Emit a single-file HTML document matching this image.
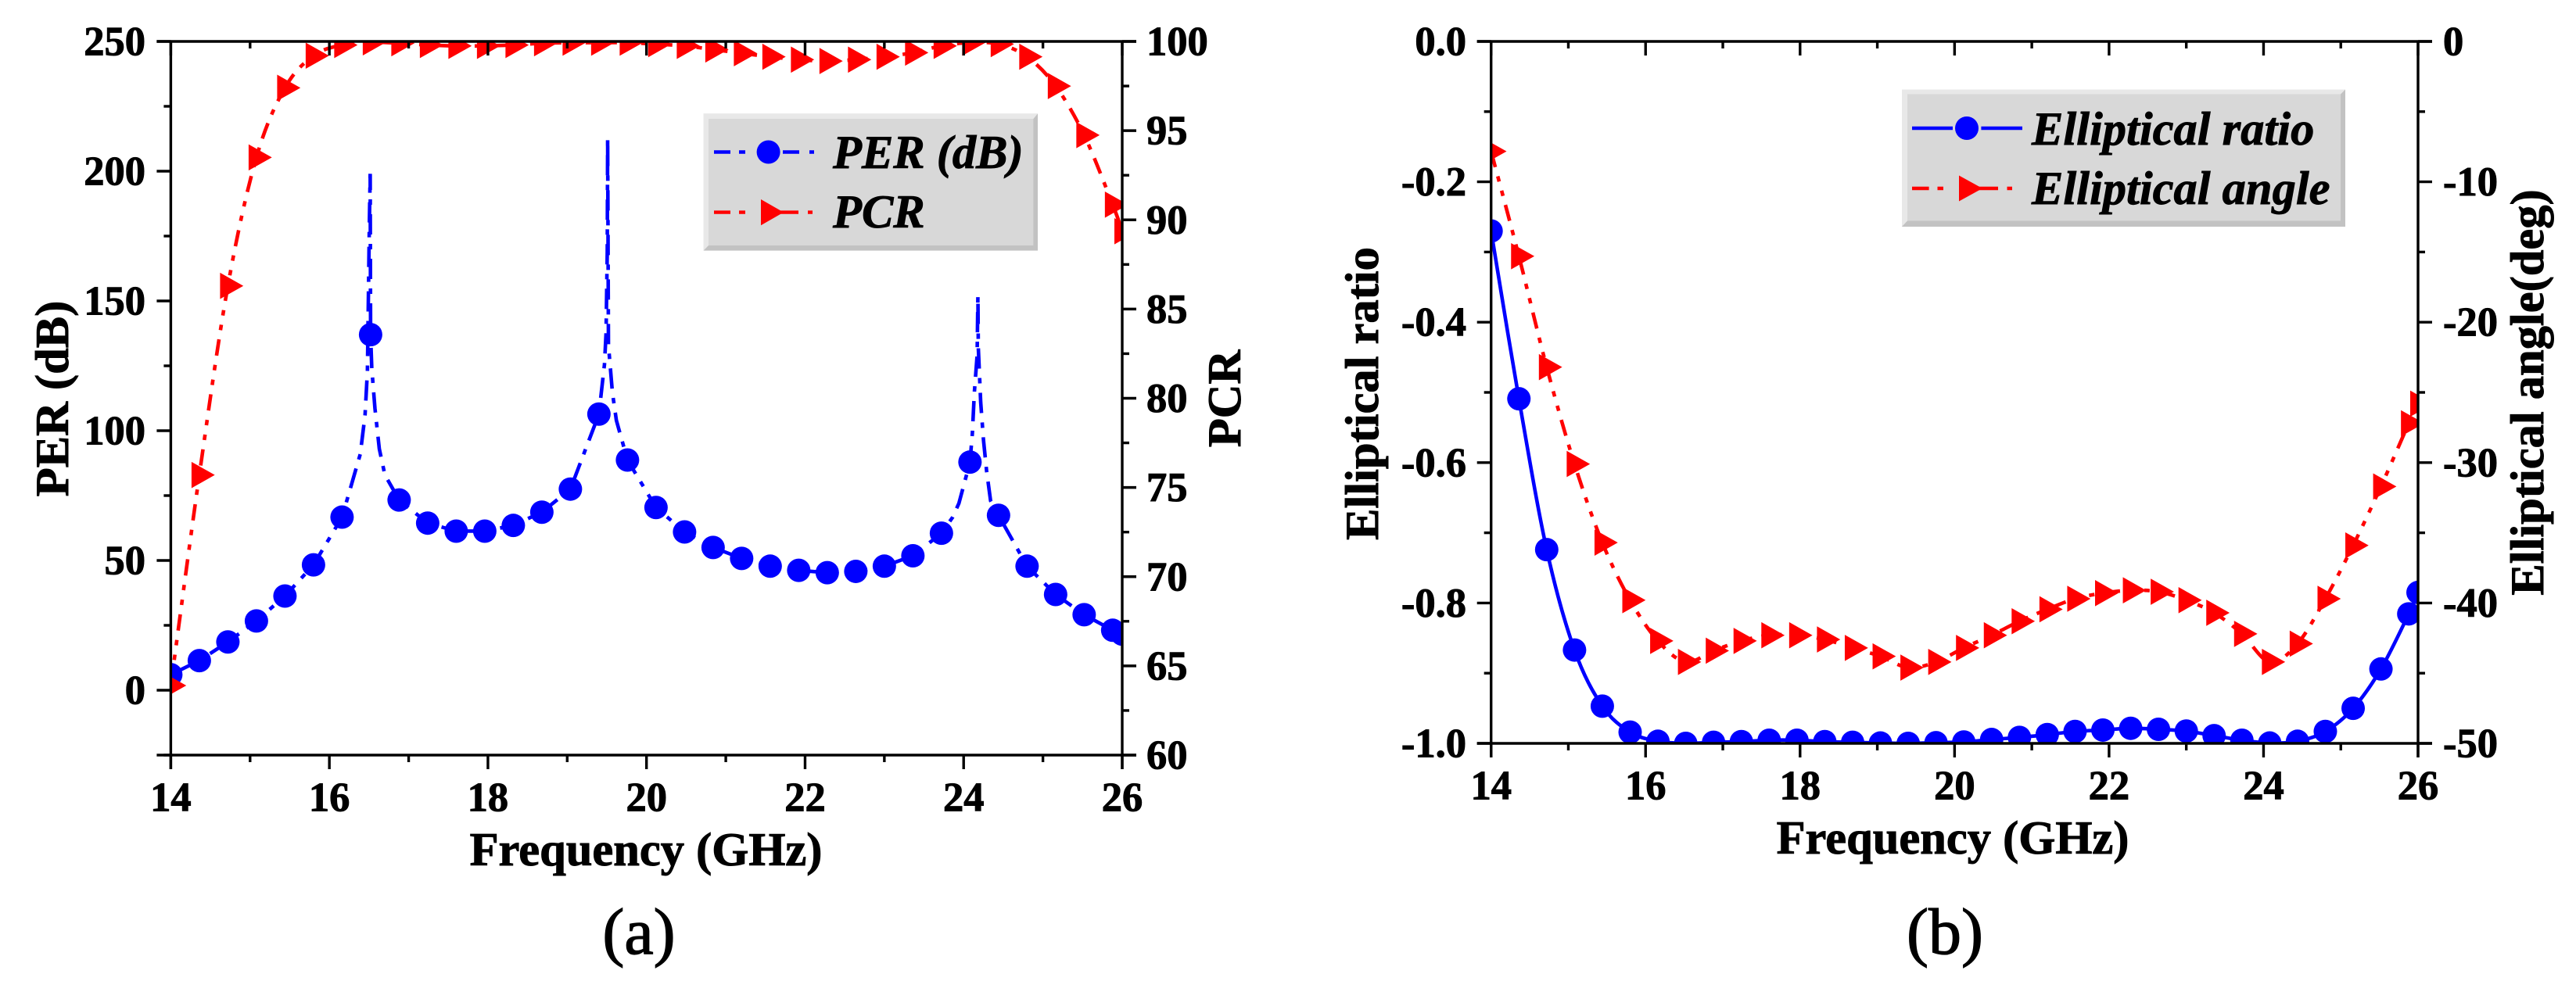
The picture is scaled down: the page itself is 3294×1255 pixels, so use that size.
<!DOCTYPE html>
<html lang="en">
<head>
<meta charset="utf-8">
<title>PER, PCR and elliptical response versus frequency</title>
<style>
  html, body { margin: 0; padding: 0; background: #ffffff; }
  svg { display: block; }
  text { font-family: "Liberation Serif", serif; fill: #000000; stroke: #000000; }
  .tick { font-size: 52.5px; font-weight: bold; stroke-width: 1px; }
  .title { font-size: 60.5px; font-weight: bold; stroke-width: 1px; }
  .legend-text { font-size: 60.5px; font-weight: bold; font-style: italic; stroke-width: 0.9px; }
  .caption { font-size: 84px; stroke-width: 1.3px; }
</style>
</head>
<body>
<svg id="figure" xmlns="http://www.w3.org/2000/svg" width="3294" height="1255" viewBox="0 0 3294 1255">
  <rect width="3294" height="1255" fill="#ffffff"/>
  <defs>
    <clipPath id="clip-a"><rect x="218.4" y="53" width="1216.6" height="913"/></clipPath>
    <clipPath id="clip-b"><rect x="1906.7" y="53" width="1185.3" height="898"/></clipPath>
  </defs>

  <g id="panel-a">
    <g id="a-marks" clip-path="url(#clip-a)"></g>
    <g id="a-axes"></g>
    <text class="title" x="826" y="1107" text-anchor="middle">Frequency (GHz)</text>
    <text class="title" transform="translate(87 510) rotate(-90)" text-anchor="middle">PER (dB)</text>
    <text class="title" transform="translate(1586 510) rotate(-90)" text-anchor="middle">PCR</text>
    <text class="caption" x="817" y="1220" text-anchor="middle">(a)</text>

    <g>
      <rect x="899.5" y="145.4" width="427.5" height="175.2" fill="#c2c2c2"/>
      <polygon points="899.5,145.4 1327,145.4 1321.4,152 906,152 906,314 899.5,320.6" fill="#e8e8e8"/>
      <rect x="906" y="152" width="415.4" height="162" fill="#d8d8d8"/>
      <g>
        <g stroke="#0000ff" stroke-width="4.4" fill="none">
          <path d="M913 194.5H934M945 194.5H953M1001 194.5H1022M1035 194.5H1041"/>
        </g>
        <circle cx="982.6" cy="194.5" r="15" fill="#0000ff"/>
        <text class="legend-text" x="1065" y="215">PER (dB)</text>
      </g>
      <g>
        <g stroke="#ff0000" stroke-width="4.4" fill="none">
          <path d="M913 271.6H934M945 271.6H953M990 271.6H1021M1033 271.6H1039"/>
        </g>
        <polygon points="973,255 973,288.2 1002,271.6" fill="#ff0000"/>
        <text class="legend-text" x="1065" y="291">PCR</text>
      </g>
    </g>
  </g>

  <g id="panel-b">
    <g id="b-marks" clip-path="url(#clip-b)"></g>
    <g id="b-axes"></g>
    <text class="title" x="2497" y="1092" text-anchor="middle">Frequency (GHz)</text>
    <text class="title" transform="translate(1762 503.5) rotate(-90)" text-anchor="middle">Elliptical ratio</text>
    <text class="title" transform="translate(3252 502) rotate(-90)" text-anchor="middle">Elliptical angle(deg)</text>
    <text class="caption" x="2487" y="1220" text-anchor="middle">(b)</text>

    <g>
      <rect x="2432" y="114.5" width="567" height="175.5" fill="#c2c2c2"/>
      <polygon points="2432,114.5 2999,114.5 2993,120.5 2439,120.5 2439,282.5 2432,290" fill="#e8e8e8"/>
      <rect x="2439" y="120.5" width="554" height="162" fill="#d8d8d8"/>
      <g>
        <path d="M2445 164H2497M2533.4 164H2586" stroke="#0000ff" stroke-width="4.4" fill="none"/>
        <circle cx="2515" cy="164" r="15" fill="#0000ff"/>
        <text class="legend-text" x="2598" y="185">Elliptical ratio</text>
      </g>
      <g>
        <path d="M2445 241H2466.6M2477.5 241H2485M2525 241H2555M2566.5 241H2573" stroke="#ff0000" stroke-width="4.4" fill="none"/>
        <polygon points="2505,224.5 2505,257.5 2535,241" fill="#ff0000"/>
        <text class="legend-text" x="2598" y="261">Elliptical angle</text>
      </g>
    </g>
  </g>
</svg>

<script>
// Shared sweep positions (GHz)
const frequency = [14, 14.36, 14.72, 15.08, 15.44, 15.8, 16.16, 16.52, 16.88, 17.24, 17.6, 17.96, 18.32, 18.68, 19.04, 19.4, 19.76, 20.12, 20.48, 20.84, 21.2, 21.56, 21.92, 22.28, 22.64, 23, 23.36, 23.72, 24.08, 24.44, 24.8, 25.16, 25.52, 25.88, 26];

// Panel (a)
const perValues = [6, 11.4, 18.6, 26.7, 36.3, 48.3, 66.7, 137, 73.3, 64.4, 61.3, 61.3, 63.5, 68.6, 77.5, 106.4, 88.7, 70.4, 61, 55, 50.8, 47.8, 46.2, 45.3, 45.8, 47.8, 51.8, 60.5, 87.9, 67.4, 47.8, 36.9, 29.1, 23.1, 21.6];
const perResonanceFreq = [16.39, 16.45, 16.48, 16.505, 16.515, 16.535, 16.575, 16.63, 16.7, 19.43, 19.47, 19.49, 19.505, 19.51, 19.52, 19.57, 19.62, 23.86, 23.94, 24.11, 24.135, 24.17, 24.18, 24.185, 24.215, 24.25, 24.29, 24.34];
const perResonanceValues = [91, 106, 123, 181, 199, 124, 108.6, 93, 83, 114.7, 125.6, 137.7, 169, 212.7, 133, 114.7, 104, 66.6, 72, 99, 114.7, 129, 152, 132, 111, 96.5, 84.4, 73];
const pcrValues = [63.9, 75.7, 86.3, 93.5, 97.4, 99.2, 99.8, 99.95, 99.9, 99.8, 99.75, 99.75, 99.8, 99.9, 99.93, 99.93, 99.93, 99.85, 99.75, 99.55, 99.34, 99.14, 98.98, 98.9, 98.98, 99.14, 99.37, 99.75, 99.93, 99.85, 99.14, 97.5, 94.75, 90.85, 89.36];

// Panel (b)
const ratioValues = [-0.27, -0.509, -0.724, -0.867, -0.947, -0.984, -0.997, -1, -0.9985, -0.9975, -0.9955, -0.9955, -0.9975, -0.9985, -0.9995, -1, -0.999, -0.998, -0.9945, -0.9915, -0.9875, -0.983, -0.981, -0.9785, -0.98, -0.9825, -0.989, -0.9955, -0.9995, -0.997, -0.983, -0.95, -0.894, -0.8155, -0.785];
const angleValues = [-7.83, -15.3, -23.2, -30.1, -35.7, -39.8, -42.7, -44.2, -43.4, -42.7, -42.3, -42.3, -42.6, -43.2, -43.8, -44.6, -44.2, -43.2, -42.3, -41.3, -40.45, -39.7, -39.3, -39.1, -39.2, -39.8, -40.7, -42.2, -44.2, -42.9, -39.7, -35.9, -31.7, -27.2, -25.8];

// Tick labels
const freqTicks = [14, 16, 18, 20, 22, 24, 26];
const perTicks = [0, 50, 100, 150, 200, 250];
const pcrTicks = [60, 65, 70, 75, 80, 85, 90, 95, 100];
const ratioTicks = ['0.0', '-0.2', '-0.4', '-0.6', '-0.8', '-1.0'];
const angleTicks = [0, -10, -20, -30, -40, -50];

const SVGNS = 'http://www.w3.org/2000/svg';
const BLUE_DASH = '26 12 7 12';
const RED_DASH = '21 12 7 12 7 12';

function linear(d0, d1, r0, r1) {
  return function (v) { return r0 + (v - d0) * (r1 - r0) / (d1 - d0); };
}
function make(parent, tag) {
  const el = document.createElementNS(SVGNS, tag);
  parent.appendChild(el);
  return el;
}
function setAll(el, attrs) {
  Object.keys(attrs).forEach(function (k) { el.setAttribute(k, attrs[k]); });
}
function straightPath(pts) {
  return pts.map(function (p, i) { return (i ? 'L' : 'M') + p[0].toFixed(2) + ' ' + p[1].toFixed(2); }).join('');
}
function smoothPath(pts) {
  let d = 'M' + pts[0][0].toFixed(2) + ' ' + pts[0][1].toFixed(2);
  for (let i = 0; i < pts.length - 1; i++) {
    const p0 = pts[Math.max(i - 1, 0)], p1 = pts[i], p2 = pts[i + 1], p3 = pts[Math.min(i + 2, pts.length - 1)];
    d += 'C' + (p1[0] + (p2[0] - p0[0]) / 6).toFixed(2) + ' ' + (p1[1] + (p2[1] - p0[1]) / 6).toFixed(2) + ' ' +
         (p2[0] - (p3[0] - p1[0]) / 6).toFixed(2) + ' ' + (p2[1] - (p3[1] - p1[1]) / 6).toFixed(2) + ' ' +
         p2[0].toFixed(2) + ' ' + p2[1].toFixed(2);
  }
  return d;
}

function drawLine(parent, d, color, dash, name) {
  const line = make(parent, 'path');
  
  
  setAll(line, { d: d, fill: 'none', stroke: color, 'stroke-width': 4.6 });
  if (dash) line.setAttribute('stroke-dasharray', dash);
}
function drawCircles(parent, xs, ys, sx, sy, name) {
  xs.forEach(function (x, i) {
    const c = make(parent, 'circle');
    
    
    setAll(c, { cx: sx(x), cy: sy(ys[i]), r: 15, fill: '#0000ff' });
  });
}
function drawTriangles(parent, xs, ys, sx, sy, name) {
  xs.forEach(function (x, i) {
    const cx = sx(x), cy = sy(ys[i]);
    const t = make(parent, 'polygon');
    
    
    setAll(t, {
      points: (cx - 10) + ',' + (cy - 16.8) + ' ' + (cx - 10) + ',' + (cy + 16.8) + ' ' + (cx + 19.8) + ',' + cy,
      fill: '#ff0000'
    });
  });
}
function drawRule(parent, x1, y1, x2, y2, name) {
  const l = make(parent, 'line');
  
  
  setAll(l, { x1: x1, y1: y1, x2: x2, y2: y2, stroke: '#000000', 'stroke-width': 3.4 });
}
function drawLabel(parent, x, y, str, anchor, name) {
  const t = make(parent, 'text');
  
  
  setAll(t, { x: x, y: y, 'text-anchor': anchor, class: 'tick' });
  t.textContent = str;
}

function drawAxes(g, box) {
  const L = box.left, R = box.right, T = box.top, B = box.bottom;
  drawRule(g, L - box.major, T, R + box.major, T, 'top-axis-line');
  drawRule(g, L - box.major, B, R + box.major, B, 'bottom-axis-line');
  drawRule(g, L, T, L, B + box.major, 'left-axis-line');
  drawRule(g, R, T, R, B + box.major, 'right-axis-line');

  freqTicks.forEach(function (f, i) {
    const x = box.sx(f);
    drawRule(g, x, B, x, B + box.major, 'x-tick');
    drawRule(g, x, T, x, T + box.major, 'top-tick');
    drawLabel(g, x, box.xLabelY, String(f), 'middle', 'x-tick-label');
    if (i < freqTicks.length - 1) {
      const m = box.sx((f + freqTicks[i + 1]) / 2);
      drawRule(g, m, B, m, B + box.minor, 'x-minor-tick');
      drawRule(g, m, T, m, T + box.minor, 'top-minor-tick');
    }
  });

  box.leftTicks.forEach(function (t, i) {
    const v = parseFloat(t), y = box.sl(v);
    drawRule(g, L - box.major, y, L, y, 'left-tick');
    drawLabel(g, box.leftLabelX, y + 17.5, String(t), 'end', 'left-tick-label');
    if (i < box.leftTicks.length - 1) {
      const m = box.sl((v + parseFloat(box.leftTicks[i + 1])) / 2);
      drawRule(g, L - box.minor, m, L, m, 'left-minor-tick');
    }
  });
  box.leftExtraMinor.forEach(function (v) {
    const y = box.sl(v);
    drawRule(g, L - box.minor, y, L, y, 'left-minor-tick');
  });

  box.rightTicks.forEach(function (t, i) {
    const y = box.sr(t);
    drawRule(g, R, y, R + box.major, y, 'right-tick');
    drawLabel(g, box.rightLabelX, y + 17.5, String(t), 'start', 'right-tick-label');
    if (i < box.rightTicks.length - 1) {
      const m = box.sr((t + box.rightTicks[i + 1]) / 2);
      drawRule(g, R, m, R + box.minor, m, 'right-minor-tick');
    }
  });
}

// Panel (a)
const ax = linear(14, 26, 218.4, 1435);
const ayPer = linear(-25, 250, 966, 53);
const ayPcr = linear(60, 100, 966, 53);
const aMarks = document.getElementById('a-marks');
const perCurve = frequency.map(function (f, i) { return [f, perValues[i]]; })
  .concat(perResonanceFreq.map(function (f, i) { return [f, perResonanceValues[i]]; }))
  .sort(function (p, q) { return p[0] - q[0]; })
  .map(function (p) { return [ax(p[0]), ayPer(p[1])]; });
drawLine(aMarks, straightPath(perCurve), '#0000ff', BLUE_DASH, 'per-line');
drawLine(aMarks, smoothPath(frequency.map(function (f, i) { return [ax(f), ayPcr(pcrValues[i])]; })), '#ff0000', RED_DASH, 'pcr-line');
drawCircles(aMarks, frequency, perValues, ax, ayPer, 'per-marker');
drawTriangles(aMarks, frequency, pcrValues, ax, ayPcr, 'pcr-marker');
drawAxes(document.getElementById('a-axes'), {
  left: 218.4, right: 1435, top: 53, bottom: 966, major: 18, minor: 9,
  sx: ax, sl: ayPer, sr: ayPcr,
  leftTicks: perTicks, rightTicks: pcrTicks, leftExtraMinor: [-25],
  xLabelY: 1037.7, leftLabelX: 186, rightLabelX: 1466
});

// Panel (b)
const bx = linear(14, 26, 1906.7, 3092);
const byRatio = linear(-1, 0, 951, 53);
const byAngle = linear(-50, 0, 951, 53);
const bMarks = document.getElementById('b-marks');
drawLine(bMarks, smoothPath(frequency.map(function (f, i) { return [bx(f), byRatio(ratioValues[i])]; })), '#0000ff', null, 'elliptical-ratio-line');
drawLine(bMarks, smoothPath(frequency.map(function (f, i) { return [bx(f), byAngle(angleValues[i])]; })), '#ff0000', RED_DASH, 'elliptical-angle-line');
drawCircles(bMarks, frequency, ratioValues, bx, byRatio, 'elliptical-ratio-marker');
drawTriangles(bMarks, frequency, angleValues, bx, byAngle, 'elliptical-angle-marker');
drawAxes(document.getElementById('b-axes'), {
  left: 1906.7, right: 3092, top: 53, bottom: 951, major: 18, minor: 9,
  sx: bx, sl: byRatio, sr: byAngle,
  leftTicks: ratioTicks, rightTicks: angleTicks, leftExtraMinor: [],
  xLabelY: 1022.6, leftLabelX: 1875, rightLabelX: 3124
});
</script>
</body>
</html>
